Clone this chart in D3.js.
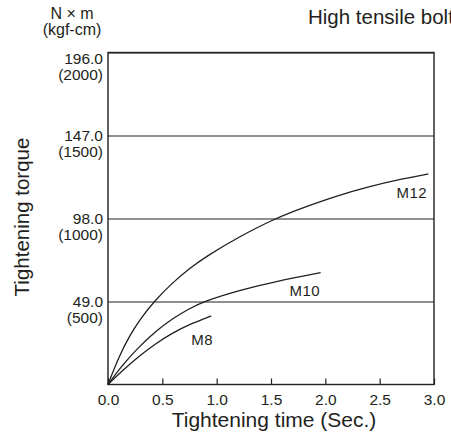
<!DOCTYPE html>
<html>
<head>
<meta charset="utf-8">
<script src="https://cdn.jsdelivr.net/npm/d3@7"></script>
<style>
  body { margin: 0; background: #fff; }
  svg { display: block; font-family: "Liberation Sans", Arial, sans-serif; }
</style>
</head>
<body>
<div class="chart"></div>
<script>
// tightening time (sec) vs tightening torque (N x m)
var m8Time = [0, 0.126, 0.28, 0.43, 0.587, 0.75, 0.95];
var m8Torque = [0, 7.8, 16.4, 23.8, 30.2, 35.5, 40.5];

var m10Time = [0, 0.12, 0.28, 0.45, 0.6, 0.75, 0.877, 1.2, 1.537, 1.957];
var m10Torque = [0, 10.5, 22, 32, 39.2, 44.8, 49, 55.5, 60.8, 66];

var m12Time = [0, 0.1, 0.2, 0.3, 0.43, 0.6, 0.75, 0.9, 1.2, 1.537, 1.8, 2.1, 2.4, 2.7, 2.948];
var m12Torque = [0, 16.5, 29, 39, 49.5, 60.5, 68.5, 75.5, 87, 98, 104.5, 111.3, 116.8, 121.3, 124.3];

var seriesNames = ["M8", "M10", "M12"];
var xTicks = [0, 0.5, 1.0, 1.5, 2.0, 2.5, 3.0];
var yTicks = [49, 98, 147, 196];
var yTickKgf = ["(500)", "(1000)", "(1500)", "(2000)"];

var margin = { top: 52.5, right: 17, bottom: 52.5, left: 108 };
var W = 451, H = 437;
var width = W - margin.left - margin.right;
var height = H - margin.top - margin.bottom;

var svg = d3.select('.chart')
  .append('svg')
    .attr('width', W)
    .attr('height', H)
  .append('g')
    .attr('transform', `translate(${margin.left}, ${margin.top})`);

var xScale = d3.scaleLinear().domain([0, 3]).range([0, width]);
var yScale = d3.scaleLinear().domain([0, 196]).range([height, 0]);

var ink = '#231f20';

// horizontal grid lines + y labels
var yAxis = d3.axisLeft(yScale)
  .tickValues(yTicks)
  .tickSize(-width)
  .tickFormat('');
var gy = svg.append('g').call(yAxis);
gy.select('.domain').remove();
gy.selectAll('.tick line').attr('stroke', ink).attr('stroke-width', 1.2);

yTicks.forEach(function (v, i) {
  var off = v === 196 ? 6 : 0;
  var t = svg.append('text')
    .attr('text-anchor', 'end')
    .attr('fill', ink)
    .style('font-size', '15.5px');
  t.append('tspan')
    .attr('x', -5)
    .attr('y', yScale(v) + off + 5.5)
    .text(d3.format('.1f')(v));
  t.append('tspan')
    .attr('x', -5)
    .attr('y', yScale(v) + off + 21)
    .text(yTickKgf[i]);
});

// x axis with inward ticks
var xAxis = d3.axisBottom(xScale)
  .tickValues(xTicks)
  .tickSizeInner(-6)
  .tickSizeOuter(0)
  .tickPadding(9)
  .tickFormat(d3.format('.1f'));
var gx = svg.append('g')
  .attr('transform', `translate(0, ${height})`)
  .call(xAxis);
gx.select('.domain').remove();
gx.selectAll('.tick line').attr('stroke', ink).attr('stroke-width', 1.2);
gx.selectAll('.tick text').attr('fill', ink).style('font-size', '15.5px');

// frame
svg.append('rect')
  .attr('x', 0).attr('y', 0)
  .attr('width', width).attr('height', height)
  .attr('fill', 'none')
  .attr('stroke', ink)
  .attr('stroke-width', 1.4);

// curves
var line = d3.line()
  .x(function (d) { return xScale(d[0]); })
  .y(function (d) { return yScale(d[1]); })
  .curve(d3.curveBasis);

var series = [
  d3.zip(m8Time, m8Torque),
  d3.zip(m10Time, m10Torque),
  d3.zip(m12Time, m12Torque)
];

svg.selectAll('.curve')
  .data(series)
  .enter().append('path')
    .attr('class', 'curve')
    .attr('d', line)
    .attr('fill', 'none')
    .attr('stroke', ink)
    .attr('stroke-width', 1.3);

// curve labels (right end, baseline)
var labelPos = [[0.966, 23.3], [1.951, 52.2], [2.935, 110.1]];
seriesNames.forEach(function (name, i) {
  svg.append('text')
    .attr('x', xScale(labelPos[i][0]))
    .attr('y', yScale(labelPos[i][1]))
    .attr('text-anchor', 'end')
    .attr('fill', ink)
    .style('font-size', '15px')
    .style('letter-spacing', '0.4px')
    .text(name);
});

// axis titles
svg.append('text')
  .attr('x', width / 2 + 3)
  .attr('y', height + 42)
  .attr('text-anchor', 'middle')
  .attr('fill', ink)
  .style('font-size', '21px')
  .text('Tightening time (Sec.)');

svg.append('text')
  .attr('transform', `translate(${29 - margin.left}, ${217 - margin.top}) rotate(-90)`)
  .attr('text-anchor', 'middle')
  .attr('fill', ink)
  .style('font-size', '20.5px')
  .text('Tightening torque');

// unit label
var unit = svg.append('text')
  .attr('text-anchor', 'middle')
  .attr('fill', ink)
  .style('font-size', '16px');
unit.append('tspan').attr('x', 72 - margin.left).attr('y', 19 - margin.top).text('N × m');
unit.append('tspan').attr('x', 72 - margin.left).attr('y', 35 - margin.top).text('(kgf-cm)');

// title (cut off at the right edge like the original)
svg.append('text')
  .attr('x', 308 - margin.left)
  .attr('y', 24 - margin.top)
  .attr('fill', ink)
  .style('font-size', '20.5px')
  .text('High tensile bolt');
</script>
</body>
</html>
